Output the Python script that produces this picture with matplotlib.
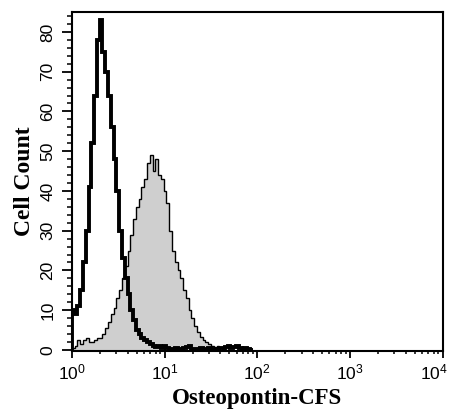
import numpy as np
import matplotlib.pyplot as plt
import matplotlib.transforms as mtransforms
from matplotlib.ticker import MultipleLocator, LogLocator

# histogram channels: 0.03 decade wide, starting at 10^0
channel_step = 0.03

# isotype / unstained control (thick black line)
control_counts = [
    10, 9, 11, 15, 22, 30, 41, 52, 64, 78,
    83, 75, 70, 64, 56, 48, 40, 30, 23, 18,
    14, 10, 7.5, 5, 4, 3, 2.5, 2, 1.5, 1,
    0.8, 1, 0.5, 1, 0.5, 0.3, 0.3, 0.5, 0.3, 0.3,
    0.5, 0.8, 1, 0.3, 0.3, 0.3, 0.5, 0.3, 0.3, 0.5,
    0.3, 0.3, 0.3, 0.5, 0.5, 0.8, 1, 0.5, 0.8, 1,
    0.5, 0.3, 0.5, 0.3, 0,
]

# Osteopontin stained cells (grey filled)
stained_counts = [
    0.5, 1, 2.5, 1.5, 2.5, 3, 2, 2, 2.5, 3,
    3, 4, 5.5, 7, 9, 10.5, 13, 15, 18, 21,
    25, 29, 33, 36, 38, 41, 43, 47, 49, 45,
    48, 44, 43, 40, 37, 30, 25, 22, 20, 18,
    15, 13, 10, 8, 6, 4.5, 3.3, 2.5, 2, 1.5,
    1, 0.8, 1, 0.5, 0.3, 0,
]

x_ticks = [1, 10, 100, 1000, 10000]
y_ticks = [0, 10, 20, 30, 40, 50, 60, 70, 80]

fig = plt.figure(figsize=(4.55, 4.16), dpi=100)
ax = fig.add_axes([0.158, 0.156, 0.815, 0.815])

stained_edges = 10 ** (np.arange(len(stained_counts) + 1) * channel_step)
control_edges = 10 ** (np.arange(len(control_counts) + 1) * channel_step)

ax.stairs(stained_counts, stained_edges, fill=True, color="#cfcfcf", zorder=2)
ax.stairs(stained_counts, stained_edges, color="black", linewidth=1.0, zorder=3)
ax.stairs(control_counts, control_edges, color="black", linewidth=2.8, zorder=4)

ax.set_xscale("log")
ax.set_xlim(1, 10000)
ax.set_ylim(-0.3, 85)
ax.set_xticks(x_ticks)
ax.xaxis.set_minor_locator(LogLocator(base=10, subs=np.arange(2, 10)))
ax.set_yticks(y_ticks)
ax.yaxis.set_minor_locator(MultipleLocator(2))

for s in ax.spines.values():
    s.set_linewidth(1.5)

ax.tick_params(axis="y", which="major", length=7, width=1.3, pad=5,
               labelsize=12.5, labelrotation=90)
ax.tick_params(axis="y", which="minor", length=3.5, width=1.1)
ax.tick_params(axis="x", which="major", length=5, width=1.3, pad=3, labelsize=12.5)
ax.tick_params(axis="x", which="minor", length=2.5, width=1.1)
for lab in ax.get_yticklabels() + ax.get_xticklabels():
    lab.set_fontfamily("Liberation Sans")
for lab in ax.get_yticklabels():
    lab.set_verticalalignment("center")

# keep the 10^4 label inside the figure
last = ax.get_xticklabels()[-1]
last.set_transform(last.get_transform()
                   + mtransforms.ScaledTranslation(-6 / 72, 0, fig.dpi_scale_trans))

ax.set_xlabel("Osteopontin-CFS", family="Liberation Serif", fontweight="bold",
              fontsize=16.5, labelpad=4)
ax.set_ylabel("Cell Count", family="Liberation Serif", fontweight="bold",
              fontsize=17, labelpad=4)

plt.savefig("out.png", dpi=100)
